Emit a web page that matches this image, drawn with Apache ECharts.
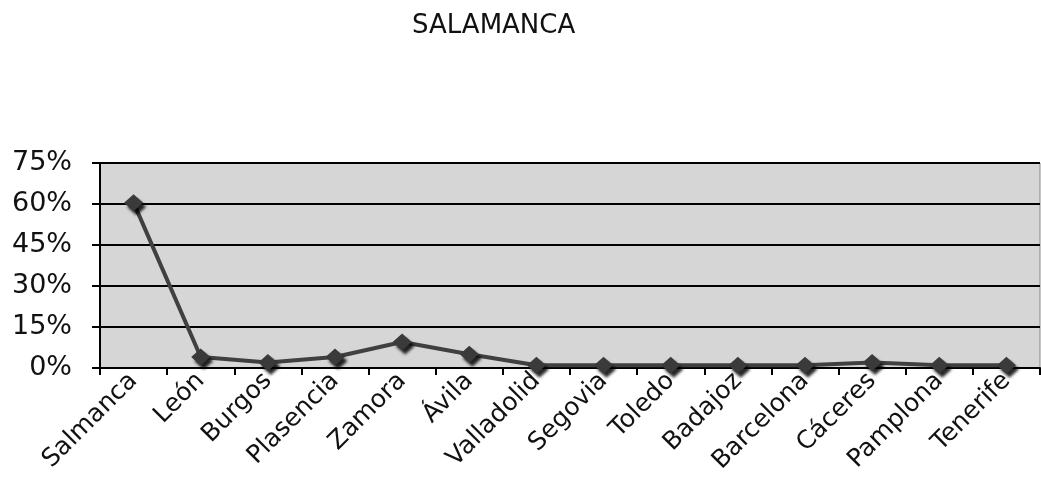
<!DOCTYPE html>
<html>
<head>
<meta charset="utf-8">
<script src="https://cdn.jsdelivr.net/npm/echarts@6/dist/echarts.min.js"></script>
<style>
  html, body { margin: 0; padding: 0; background: #fff; }
  #chart { width: 1041px; height: 483px; }
</style>
</head>
<body>
<div id="chart"></div>
<script>
var cities = ['Salmanca', 'León', 'Burgos', 'Plasencia', 'Zamora', 'Ávila', 'Valladolid',
              'Segovia', 'Toledo', 'Badajoz', 'Barcelona', 'Cáceres', 'Pamplona', 'Tenerife'];
var percents = [60.5, 4, 2, 4, 9.5, 5, 1, 1, 1, 1, 1, 2, 1, 1];
var yTicks = [0, 15, 30, 45, 60, 75];

var font = 'DejaVu Sans, Verdana, sans-serif';

var option = {
    animation: false,
    title: {
        text: 'SALAMANCA',
        left: 407,
        top: 8,
        textStyle: { fontFamily: font, fontSize: 26, fontWeight: 'normal', color: '#111' }
    },
    grid: {
        left: 100, right: 1, top: 163, bottom: 115,
        show: true,
        backgroundColor: '#d6d6d6',
        borderColor: '#8a8a8a',
        borderWidth: 1
    },
    xAxis: {
        type: 'category',
        data: cities,
        boundaryGap: true,
        axisLine: { lineStyle: { color: '#000', width: 2 } },
        axisTick: { show: true, length: 7, lineStyle: { color: '#000', width: 2 } },
        axisLabel: {
            rotate: 45,
            margin: 9,
            interval: 0,
            fontFamily: font,
            fontSize: 25,
            color: '#111'
        }
    },
    yAxis: {
        type: 'value',
        min: yTicks[0],
        max: yTicks[yTicks.length - 1],
        interval: 15,
        axisLine: { show: true, lineStyle: { color: '#000', width: 2 } },
        axisTick: { show: true, length: 8, lineStyle: { color: '#000', width: 2 } },
        splitLine: { lineStyle: { color: '#000', width: 2 } },
        axisLabel: {
            formatter: '{value}%',
            margin: 28,
            fontFamily: font,
            fontSize: 27,
            color: '#111'
        }
    },
    series: [{
        type: 'line',
        data: percents,
        symbol: 'diamond',
        symbolSize: [19, 17],
        lineStyle: { color: '#404040', width: 4 },
        itemStyle: {
            color: '#3a3a3a',
            shadowColor: 'rgba(0,0,0,0.85)',
            shadowBlur: 3,
            shadowOffsetX: 3,
            shadowOffsetY: 4
        }
    }]
};

var myChart = echarts.init(document.getElementById('chart'));
myChart.setOption(option);
</script>
</body>
</html>
